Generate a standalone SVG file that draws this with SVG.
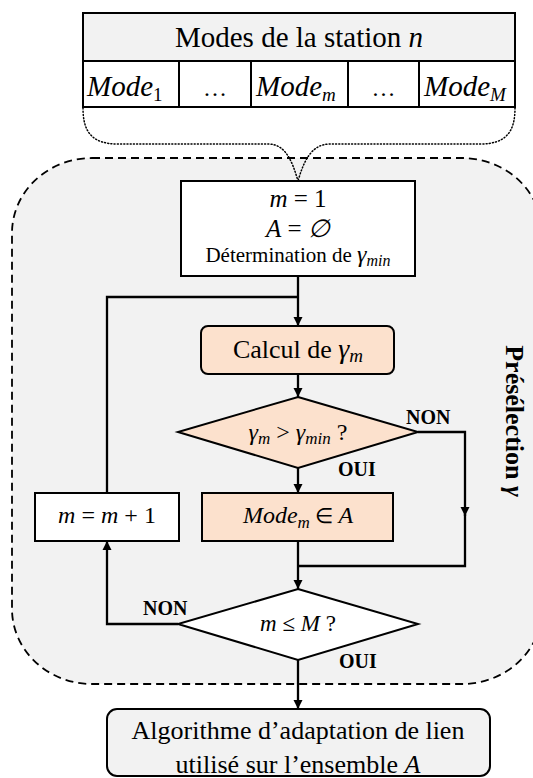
<svg xmlns="http://www.w3.org/2000/svg" width="533" height="778" viewBox="0 0 533 778">
<defs>
<style>
.t{font-family:"Liberation Serif","Times New Roman",serif;fill:#000}
.i{font-style:italic}
.b{font-weight:bold}
.box{stroke:#000;stroke-width:2}
.ln{fill:none;stroke:#000;stroke-width:2.3}
.peach{fill:#fce1cd}
</style>
<marker id="ah" viewBox="0 0 10 10" refX="10" refY="5" markerWidth="4" markerHeight="4" markerUnits="strokeWidth" orient="auto">
<path d="M0,0 L10,5 L0,10 z" fill="#000"/>
</marker>
</defs>
<rect width="533" height="778" fill="#fff"/>

<g id="region">
<rect x="12" y="158" width="530" height="526" rx="80" ry="75" fill="#f2f2f2" stroke="#000" stroke-width="1.8" stroke-dasharray="8 5"/>
<text class="t b" font-size="26" transform="translate(506,421) rotate(90)" text-anchor="middle">Présélection <tspan class="i">γ</tspan></text>
</g>

<g id="modes-table">
<rect x="83" y="13" width="432" height="48" fill="#f2f2f2" class="box"/>
<rect x="83" y="61" width="432" height="46" fill="#fff" class="box"/>
<path d="M179,61V107M251,61V107M348,61V107M419,61V107" class="box" fill="none"/>
<text class="t" font-size="29" x="299" y="47" text-anchor="middle">Modes de la station <tspan class="i">n</tspan></text>
<text class="t i" font-size="29" x="87" y="96">Mode<tspan font-style="normal" font-size="19" dy="5">1</tspan></text>
<text class="t" font-size="24" x="215" y="96" text-anchor="middle">…</text>
<text class="t i" font-size="29" x="256" y="96">Mode<tspan font-size="19" dy="5">m</tspan></text>
<text class="t" font-size="24" x="383.5" y="96" text-anchor="middle">…</text>
<text class="t i" font-size="29" x="424" y="96">Mode<tspan font-size="19" dy="5">M</tspan></text>
</g>

<g id="brace" fill="none" stroke="#000" stroke-width="1.5" stroke-dasharray="1 2.2" stroke-linecap="round">
<path d="M83,108 C83,132 92,144 118,144 L268,144 C285,144 292,160 298,181"/>
<path d="M515,108 C515,132 506,144 480,144 L330,144 C312,144 304,160 298,181"/>
</g>

<g id="init">
<rect x="181" y="181" width="234" height="95" fill="#fff" class="box"/>
<text class="t" font-size="25" x="298" y="207" text-anchor="middle"><tspan class="i">m</tspan> = 1</text>
<text class="t" font-size="25" x="298" y="237" text-anchor="middle"><tspan class="i">A</tspan> =  <tspan class="i">∅</tspan></text>
<text class="t" font-size="21" x="298" y="262" text-anchor="middle">Détermination de <tspan class="i" font-size="24">γ</tspan><tspan class="i" font-size="16" dy="4">min</tspan></text>
</g>

<g id="calcul">
<rect x="201" y="326" width="193" height="48" rx="7" class="box peach"/>
<text class="t" font-size="26" x="298" y="358" text-anchor="middle">Calcul de <tspan class="i" font-size="28">γ</tspan><tspan class="i" font-size="19" dy="4">m</tspan></text>
</g>

<g id="test-gamma">
<polygon points="298,397 418,432 298,468 178,432" class="box peach"/>
<text class="t" font-size="24" x="298" y="440" text-anchor="middle"><tspan class="i">γ</tspan><tspan class="i" font-size="17" dy="4">m</tspan><tspan dy="-4">   &gt; </tspan><tspan class="i">γ</tspan><tspan class="i" font-size="17" dy="4">min</tspan><tspan dy="-4"> ?</tspan></text>
</g>

<g id="mode-in-a">
<rect x="202" y="493" width="191" height="48" class="box peach"/>
<text class="t" font-size="24" x="298" y="523" text-anchor="middle"><tspan class="i">Mode</tspan><tspan class="i" font-size="17" dy="5">m</tspan><tspan dy="-5" font-size="21"> ∈ </tspan><tspan class="i">A</tspan></text>
</g>

<g id="increment">
<rect x="35" y="493" width="144" height="48" fill="#fff" class="box"/>
<text class="t" font-size="24" x="107" y="523" text-anchor="middle"><tspan class="i">m</tspan> = <tspan class="i">m</tspan> + 1</text>
</g>

<g id="test-m">
<polygon points="298,589 418,624 298,660 178,624" fill="#fff" class="box"/>
<text class="t" font-size="23" x="298" y="631" text-anchor="middle"><tspan class="i">m</tspan> ≤ <tspan class="i">M</tspan> ?</text>
</g>

<g id="algorithm">
<rect x="107" y="709" width="383" height="67" rx="10" fill="#f2f2f2" class="box"/>
<text class="t" font-size="26" x="298" y="739" text-anchor="middle">Algorithme d’adaptation de lien</text>
<text class="t" font-size="26" x="298" y="773" text-anchor="middle">utilisé sur l’ensemble <tspan class="i">A</tspan></text>
</g>

<g id="connectors">
<path d="M298,276 V326" class="ln" marker-end="url(#ah)"/>
<path d="M107,493 V297 H298" class="ln"/>
<path d="M298,374 V397" class="ln" marker-end="url(#ah)"/>
<path d="M298,468 V493" class="ln" marker-end="url(#ah)"/>
<path d="M418,432 H465 V516" class="ln" marker-end="url(#ah)"/>
<path d="M465,514 V566 H298" class="ln"/>
<path d="M298,541 V589" class="ln" marker-end="url(#ah)"/>
<path d="M178,624 H107 V541" class="ln" marker-end="url(#ah)"/>
<path d="M298,660 V709" class="ln" marker-end="url(#ah)"/>
</g>

<g id="labels">
<text class="t b" font-size="20" x="406" y="424">NON</text>
<text class="t b" font-size="20" x="338" y="476">OUI</text>
<text class="t b" font-size="20" x="143" y="615">NON</text>
<text class="t b" font-size="20" x="339" y="668">OUI</text>
</g>
</svg>
